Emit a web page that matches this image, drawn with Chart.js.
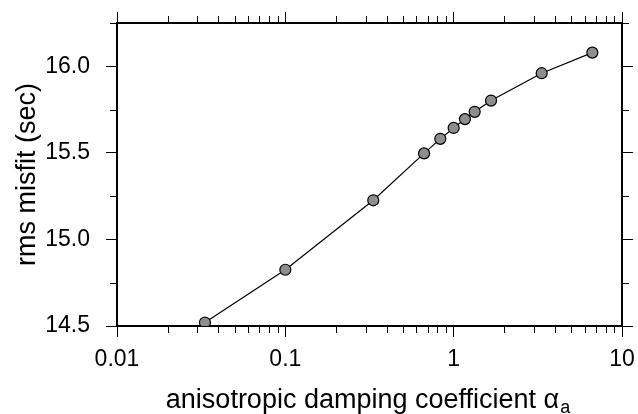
<!DOCTYPE html>
<html>
<head>
<meta charset="utf-8">
<script src="https://cdn.jsdelivr.net/npm/chart.js@4"></script>
<style>
  html, body { margin: 0; padding: 0; background: #fff; }
  #wrap { width: 638px; height: 414px; }
</style>
</head>
<body>
<div id="wrap"><canvas id="misfitChart"></canvas></div>
<script>
// damping coefficient vs rms misfit
const alphaValues = [0.0333, 0.1, 0.333, 0.667, 0.833, 1, 1.167, 1.333, 1.667, 3.333, 6.667];
const misfitValues = [14.52, 14.825, 15.226, 15.497, 15.581, 15.644, 15.695, 15.737, 15.802, 15.96, 16.079];

const xMajorTicks = [0.01, 0.1, 1, 10];
const xMinorTicks = [0.02, 0.03, 0.04, 0.05, 0.06, 0.07, 0.08, 0.09,
                     0.2, 0.3, 0.4, 0.5, 0.6, 0.7, 0.8, 0.9,
                     2, 3, 4, 5, 6, 7, 8, 9];
const yMajorTicks = [14.5, 15.0, 15.5, 16.0];
const yMinorTicks = [14.75, 15.25, 15.75, 16.25];

const FONT = '"Liberation Sans", Arial, Helvetica, sans-serif';
const tickFont = { family: FONT, size: 23 };
const titleFont = { family: FONT, size: 27 };

// short ticks between the labelled ones, on all four sides
const minorTicks = {
    id: 'minorTicks',
    afterDraw(chart) {
        const ctx = chart.ctx;
        const area = chart.chartArea;
        const xs = chart.scales.x;
        const ys = chart.scales.y;
        ctx.save();
        ctx.strokeStyle = '#000';
        ctx.lineWidth = 1;
        ctx.beginPath();
        xMinorTicks.forEach(v => {
            const px = Math.round(xs.getPixelForValue(v)) + 0.5;
            ctx.moveTo(px, area.bottom);
            ctx.lineTo(px, area.bottom + 7);
            ctx.moveTo(px, area.top);
            ctx.lineTo(px, area.top - 7);
        });
        yMinorTicks.forEach(v => {
            const py = Math.round(ys.getPixelForValue(v)) + 0.5;
            ctx.moveTo(area.left, py);
            ctx.lineTo(area.left - 7, py);
            ctx.moveTo(area.right, py);
            ctx.lineTo(area.right + 7, py);
        });
        ctx.stroke();
        ctx.restore();
    }
};

// x axis title with a subscript on the alpha
const xTitle = {
    id: 'xTitle',
    afterDraw(chart) {
        const ctx = chart.ctx;
        const area = chart.chartArea;
        const main = 'anisotropic damping coefficient \u03B1';
        const sub = 'a';
        ctx.save();
        ctx.fillStyle = '#000';
        ctx.textBaseline = 'alphabetic';
        ctx.textAlign = 'left';
        ctx.font = titleFont.size + 'px ' + FONT;
        const wMain = ctx.measureText(main).width;
        ctx.font = '18px ' + FONT;
        const wSub = ctx.measureText(sub).width;
        const x0 = (area.left + area.right) / 2 - (wMain + wSub) / 2 - 2;
        const base = 408;
        ctx.font = titleFont.size + 'px ' + FONT;
        ctx.fillText(main, x0, base);
        ctx.font = '18px ' + FONT;
        ctx.fillText(sub, x0 + wMain + 1, base + 5);
        ctx.restore();
    }
};

function axisBase(extra) {
    return Object.assign({
        grid: {
            drawOnChartArea: false,
            drawTicks: true,
            tickLength: 11,
            tickColor: '#000',
            tickWidth: 1
        },
        border: { display: true, color: '#000', width: 2 }
    }, extra);
}

// fixed box sizes; label overhang must not shrink the plot frame
function fixHeight(h) {
    return s => { s.height = h; s.paddingLeft = 0; s.paddingRight = 0; };
}
function fixWidth(w) {
    return s => { s.width = w; s.paddingTop = 0; s.paddingBottom = 0; };
}

const points = alphaValues.map((a, i) => ({ x: a, y: misfitValues[i] }));

new Chart(document.getElementById('misfitChart'), {
    type: 'scatter',
    data: {
        datasets: [{
            data: points,
            showLine: true,
            borderColor: '#000',
            borderWidth: 1.2,
            tension: 0,
            pointRadius: 5.5,
            pointHoverRadius: 5.5,
            pointBackgroundColor: '#8e8e8e',
            pointBorderColor: '#000',
            pointBorderWidth: 1.2,
            clip: 0
        }]
    },
    options: {
        responsive: true,
        maintainAspectRatio: false,
        animation: false,
        layout: { padding: 0 },
        plugins: {
            legend: { display: false },
            tooltip: { enabled: false }
        },
        scales: {
            x: axisBase({
                type: 'logarithmic',
                position: 'bottom',
                min: 0.01,
                max: 10,
                afterBuildTicks: s => { s.ticks = xMajorTicks.map(v => ({ value: v })); },
                afterFit: fixHeight(88),
                ticks: {
                    callback: v => String(v),
                    font: tickFont,
                    color: '#000',
                    padding: 9,
                    autoSkip: false,
                    maxRotation: 0
                }
            }),
            x2: axisBase({
                type: 'logarithmic',
                position: 'top',
                min: 0.01,
                max: 10,
                afterBuildTicks: s => { s.ticks = xMajorTicks.map(v => ({ value: v })); },
                afterFit: fixHeight(23),
                ticks: { display: false }
            }),
            y: axisBase({
                type: 'linear',
                position: 'left',
                min: 14.5,
                max: 16.25,
                afterBuildTicks: s => { s.ticks = yMajorTicks.map(v => ({ value: v })); },
                afterFit: fixWidth(117),
                ticks: {
                    callback: v => v.toFixed(1),
                    font: tickFont,
                    color: '#000',
                    padding: 16
                },
                title: {
                    display: true,
                    text: 'rms misfit (sec)',
                    font: titleFont,
                    color: '#000',
                    padding: { top: 11, bottom: 0 }
                }
            }),
            y2: axisBase({
                type: 'linear',
                position: 'right',
                min: 14.5,
                max: 16.25,
                afterBuildTicks: s => { s.ticks = yMajorTicks.map(v => ({ value: v })); },
                afterFit: fixWidth(16),
                ticks: { display: false }
            })
        }
    },
    plugins: [minorTicks, xTitle]
});
</script>
</body>
</html>
